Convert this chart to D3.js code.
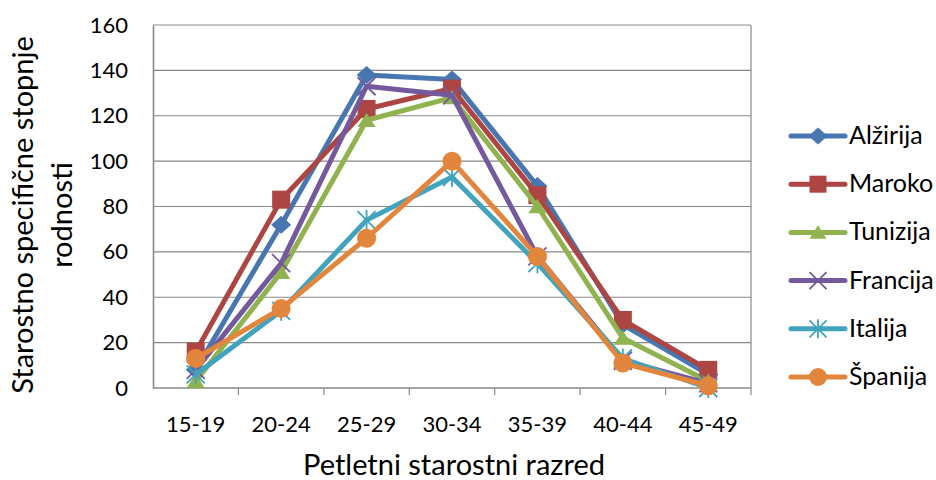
<!DOCTYPE html>
<html lang="sl">
<head>
<meta charset="UTF-8">
<title>Starostno specifične stopnje rodnosti</title>
<style>
    body { margin: 0; background: #fff; }
    text { font-family: Lato, "Open Sans", sans-serif; fill: #000; }
</style>
</head>
<body>
<script src="https://cdn.jsdelivr.net/npm/d3@7"></script>
<script>
    // categories and series
    var categories = ["15-19", "20-24", "25-29", "30-34", "35-39", "40-44", "45-49"];
    var seriesNames = ["Alžirija", "Maroko", "Tunizija", "Francija", "Italija", "Španija"];
    var alzirija = [8, 72, 138, 136, 89, 28, 6];
    var maroko   = [16, 83, 123, 132, 85, 30, 8];
    var tunizija = [3, 51, 118, 128, 80, 22, 3];
    var francija = [8, 55, 133, 129, 58, 12, 2];
    var italija  = [6, 34, 74, 93, 55, 13, 0];
    var spanija  = [13, 35, 66, 100, 58, 11, 1];
    var yTicks = [0, 20, 40, 60, 80, 100, 120, 140, 160];

    var colors = ["#4776B1", "#AD4643", "#90B24F", "#74599C", "#42A3BD", "#E3863D"];
    var shapes = ["diamond", "square", "triangle", "x", "asterisk", "circle"];
    var allValues = [alzirija, maroko, tunizija, francija, italija, spanija];

    var w = 936, h = 480;
    var plotL = 153, plotR = 751, plotT = 25, plotB = 388;

    var svg = d3.select("body").append("svg")
        .attr("width", w)
        .attr("height", h);

    var xScale = d3.scaleBand()
        .domain(categories)
        .range([plotL, plotR]);
    var yScale = d3.scaleLinear()
        .domain([0, 160])
        .range([plotB, plotT]);

    // gridlines
    svg.append("g").selectAll("line")
        .data(yTicks.slice(1))
        .enter().append("line")
        .attr("x1", plotL).attr("x2", plotR)
        .attr("y1", function(d) { return yScale(d); })
        .attr("y2", function(d) { return yScale(d); })
        .attr("stroke", "#898989")
        .attr("stroke-width", 1.2);

    // plot border (right side)
    svg.append("line")
        .attr("x1", plotR).attr("x2", plotR)
        .attr("y1", plotT).attr("y2", plotB)
        .attr("stroke", "#898989").attr("stroke-width", 1.2);

    // y axis
    var yAxis = svg.append("g")
        .attr("transform", "translate(" + plotL + ",0)")
        .call(d3.axisLeft(yScale).tickValues(yTicks).tickSize(0).tickPadding(25));
    yAxis.select(".domain").attr("stroke", "#898989").attr("stroke-width", 1.6);
    yAxis.selectAll("text")
        .style("font-family", "Lato, 'Open Sans', sans-serif")
        .attr("font-size", "22px")
        .attr("fill", "#000");

    // x axis with ticks at category boundaries
    var xAxisG = svg.append("g")
        .attr("transform", "translate(0," + plotB + ")");
    xAxisG.append("line")
        .attr("x1", plotL).attr("x2", plotR)
        .attr("stroke", "#898989").attr("stroke-width", 1.6);
    xAxisG.selectAll("line.tick")
        .data(categories)
        .enter().append("line")
        .attr("class", "tick")
        .attr("x1", function(d) { return xScale(d) + xScale.bandwidth(); })
        .attr("x2", function(d) { return xScale(d) + xScale.bandwidth(); })
        .attr("y1", 0).attr("y2", 7)
        .attr("stroke", "#898989").attr("stroke-width", 1.2);
    xAxisG.selectAll("text")
        .data(categories)
        .enter().append("text")
        .attr("x", function(d) { return xScale(d) + xScale.bandwidth() / 2; })
        .attr("y", 44)
        .attr("text-anchor", "middle")
        .attr("font-size", "22px")
        .text(function(d) { return d; });

    // axis titles
    svg.append("text")
        .attr("x", 454)
        .attr("y", 475)
        .attr("text-anchor", "middle")
        .attr("font-size", "29px")
        .text("Petletni starostni razred");

    var yTitle = svg.append("text")
        .attr("transform", "translate(33,215) rotate(-90)")
        .attr("text-anchor", "middle")
        .attr("font-size", "29px");
    yTitle.append("tspan").attr("x", 0).attr("dy", 0).text("Starostno specifične stopnje");
    yTitle.append("tspan").attr("x", 0).attr("dy", 39).text("rodnosti");

    // marker drawing
    function drawMarker(g, shape, color, size) {
        var s = size / 2;
        if (shape === "diamond") {
            g.append("path").attr("d", "M0," + (-s) + "L" + (s + 1) + ",0L0," + s + "L" + (-s - 1) + ",0Z")
                .attr("fill", color);
        } else if (shape === "square") {
            g.append("rect").attr("x", -s).attr("y", -s)
                .attr("width", size).attr("height", size).attr("fill", color);
        } else if (shape === "triangle") {
            g.append("path").attr("d", "M0," + (-s * 0.85) + "L" + s + "," + (s * 0.75) + "L" + (-s) + "," + (s * 0.75) + "Z")
                .attr("fill", color);
        } else if (shape === "x") {
            g.append("path").attr("d", "M" + (-s) + "," + (-s) + "L" + s + "," + s + "M" + (-s) + "," + s + "L" + s + "," + (-s))
                .attr("stroke", color).attr("stroke-width", 1.8).attr("fill", "none");
        } else if (shape === "asterisk") {
            g.append("path").attr("d", "M" + (-s) + "," + (-s) + "L" + s + "," + s + "M" + (-s) + "," + s + "L" + s + "," + (-s) + "M0," + (-s - 1) + "L0," + (s + 1))
                .attr("stroke", color).attr("stroke-width", 1.8).attr("fill", "none");
        } else {
            g.append("circle").attr("r", s + 0.5).attr("fill", color);
        }
    }

    var line = d3.line()
        .x(function(d, i) { return xScale(categories[i]) + xScale.bandwidth() / 2; })
        .y(function(d) { return yScale(d); });

    allValues.forEach(function(values, k) {
        var g = svg.append("g");
        g.append("path")
            .datum(values)
            .attr("d", line)
            .attr("fill", "none")
            .attr("stroke", colors[k])
            .attr("stroke-width", 5)
            .attr("stroke-linejoin", "round");
        values.forEach(function(v, i) {
            var m = g.append("g")
                .attr("transform", "translate(" + (xScale(categories[i]) + xScale.bandwidth() / 2) + "," + yScale(v) + ")");
            drawMarker(m, shapes[k], colors[k], 18);
        });
    });

    // legend
    var legend = svg.append("g");
    seriesNames.forEach(function(name, k) {
        var y = 136 + k * 48.2;
        var lg = legend.append("g");
        lg.append("line")
            .attr("x1", 791).attr("x2", 845)
            .attr("y1", y).attr("y2", y)
            .attr("stroke", colors[k]).attr("stroke-width", 5)
            .attr("stroke-linecap", "round");
        var m = lg.append("g").attr("transform", "translate(818," + y + ")");
        drawMarker(m, shapes[k], colors[k], 17);
        lg.append("text")
            .attr("x", 849).attr("y", y + 8)
            .attr("font-size", "25px")
            .text(name);
    });
</script>
</body>
</html>
